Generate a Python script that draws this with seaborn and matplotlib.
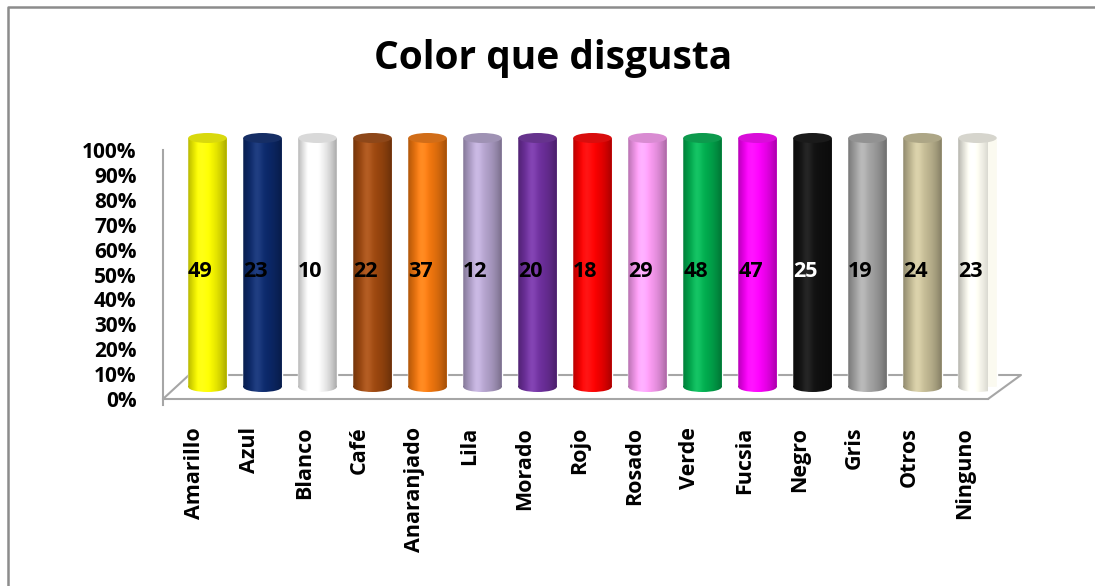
import numpy as np
import pandas as pd
import matplotlib
matplotlib.use("Agg")
import matplotlib.pyplot as plt
import matplotlib.colors as mcolors
import seaborn as sns
from matplotlib.transforms import ScaledTranslation, IdentityTransform
from matplotlib.patches import Ellipse, PathPatch
from matplotlib.path import Path
from matplotlib.lines import Line2D
from matplotlib.ticker import FixedLocator, PercentFormatter

# ---- data -------------------------------------------------------------
titulo = "Color que disgusta"
colores = ["Amarillo", "Azul", "Blanco", "Café", "Anaranjado", "Lila", "Morado",
           "Rojo", "Rosado", "Verde", "Fucsia", "Negro", "Gris", "Otros", "Ninguno"]
cantidades = [49, 23, 10, 22, 37, 12, 20, 18, 29, 48, 47, 25, 19, 24, 23]
tonos = ["#FFFF00", "#0C2A6E", "#FFFFFF", "#A0490F", "#F5780E", "#B7A6D1", "#7030A0",
         "#FF0000", "#FF9EF6", "#00B050", "#FF00FF", "#111111", "#A6A6A6", "#C8BF98",
         "#FBFAF0"]
color_texto = ["black"] * 11 + ["white"] + ["black"] * 3

df = pd.DataFrame({"Color": colores, "Cantidad": cantidades})
# each cylinder is a 100 % stacked column: share of the category total
df["Porcentaje"] = 100 * df["Cantidad"] / df.groupby("Color")["Cantidad"].transform("sum")

# ---- style --------------------------------------------------------------
sns.set_style("white")
plt.rcParams["font.family"] = ["Open Sans", "DejaVu Sans"]
plt.rcParams["font.weight"] = "bold"
plt.rcParams["text.color"] = "black"
GRIS = "#A6A6A6"

W, H = 1095, 586
fig = plt.figure(figsize=(W / 100, H / 100), dpi=100)
left, right, bottom, top = 163, 988, 399, 150
head = 30                                   # room above 100 % for the cylinder caps
ymax = 100 * (bottom - top + head) / (bottom - top)
ax = fig.add_axes([left / W, 1 - bottom / H, (right - left) / W, (bottom - top + head) / H])

sns.barplot(data=df, x="Color", y="Porcentaje", hue="Color",
            palette=dict(zip(colores, tonos)), legend=False, saturation=1,
            width=0.7, ax=ax, zorder=2)
ax.set_xlim(-0.5, len(colores) - 0.5)
ax.set_ylim(0, ymax)

px = fig.dpi_scale_trans
cyl = ax.transData + ScaledTranslation(17 / 100, 12 / 100, px)
lbl = ax.transData + ScaledTranslation(10 / 100, 3 / 100, px)

# horizontal shading profile of a cylinder
t = np.linspace(0, 1, 64)
m = np.where(t < 0.4, 1 - 0.28 * ((0.4 - t) / 0.4) ** 2, 1 - 0.34 * ((t - 0.4) / 0.6) ** 2)
hl = 0.08 * np.exp(-((t - 0.36) / 0.14) ** 2)


def strip(c):
    rgb = np.array(mcolors.to_rgb(c))
    row = np.clip(rgb[None, :] * m[:, None] + hl[:, None], 0, 1)
    return row[None, :, :]


eh = 10 / ((bottom - top) / 100)  # ellipse height in data units
bars = sorted(ax.patches, key=lambda p: p.get_x())
for i, p in enumerate(bars):
    base = tonos[i]
    p.set_transform(cyl)
    p.set_clip_on(False)
    bx, bw, bh = p.get_x(), p.get_width(), p.get_height()
    xc = bx + bw / 2
    rect_path = p.get_patch_transform().transform_path(p.get_path())
    foot = Ellipse((xc, 0), bw, eh)
    foot_path = foot.get_patch_transform().transform_path(foot.get_path())
    clip = PathPatch(Path.make_compound_path(rect_path, foot_path),
                     transform=cyl, fc="none", ec="none")
    ax.add_patch(clip)
    img = ax.imshow(strip(base), extent=(bx, bx + bw, -eh / 2, bh), aspect="auto",
                    transform=cyl, zorder=3, interpolation="bilinear")
    img.set_clip_path(clip)
    rgb = np.array(mcolors.to_rgb(base))
    tapa = np.clip(rgb * 0.8 + 0.05, 0, 1)
    ax.add_patch(Ellipse((xc, bh), bw, eh, transform=cyl, fc=tapa, ec="none",
                         zorder=4, clip_on=False))
    ax.text(xc, bh / 2, str(df.loc[i, "Cantidad"]), transform=lbl, ha="center",
            va="center", fontsize=15.5, fontweight="bold", color=color_texto[i], zorder=6)

ax.set_xlim(-0.5, len(colores) - 0.5)
ax.set_ylim(0, ymax)

# ---- axes ---------------------------------------------------------------
ax.set_xlabel("")
ax.set_ylabel("")
for s in ["top", "right"]:
    ax.spines[s].set_visible(False)
for s in ["left", "bottom"]:
    ax.spines[s].set_color(GRIS)
    ax.spines[s].set_linewidth(1.5)
ax.spines["left"].set_bounds(-2.5, 100)

ax.yaxis.set_major_locator(FixedLocator(range(0, 101, 10)))
ax.yaxis.set_major_formatter(PercentFormatter(decimals=0))
ax.tick_params(axis="y", length=7, width=1.5, color=GRIS, pad=12, labelsize=15,
               labelcolor="black")
for t_ in ax.get_yticklabels():
    t_.set_fontweight("bold")

ax.set_xticks(range(len(colores)))
ax.set_xticklabels(colores, rotation=90, fontsize=15.5, fontweight="bold", va="top")
ax.set_xticks(np.arange(-0.5, len(colores), 1), minor=True)
ax.tick_params(axis="x", which="major", length=0, pad=20, labelcolor="black")
ax.tick_params(axis="x", which="minor", length=6, width=1.5, color=GRIS)
for t_ in ax.get_xticklabels():
    t_.set_transform(t_.get_transform() + ScaledTranslation(4 / 100, 0, px))

# floor of the 3-D box (behind the cylinders)
fl = ax.transData.transform((-0.5, 0))
fr = ax.transData.transform((len(colores) - 0.5, 0))
ax.add_line(Line2D([fl[0], fl[0] + 26, fr[0] + 33, fr[0]],
                   [fl[1], fl[1] + 24, fr[1] + 24, fr[1]],
                   transform=IdentityTransform(), color=GRIS, lw=1.5,
                   zorder=1, clip_on=False))

# ---- title and frame ----------------------------------------------------
fig.text(553 / W, 1 - 58 / H, titulo, ha="center", va="center",
         fontsize=28, fontweight="bold", color="black")
fig.add_artist(Line2D([7.5 / W, 7.5 / W, 1], [0, 1 - 6.5 / H, 1 - 6.5 / H],
                      transform=fig.transFigure, color="#8C8C8C", lw=1.8))

fig.savefig("out.png", dpi=100)
